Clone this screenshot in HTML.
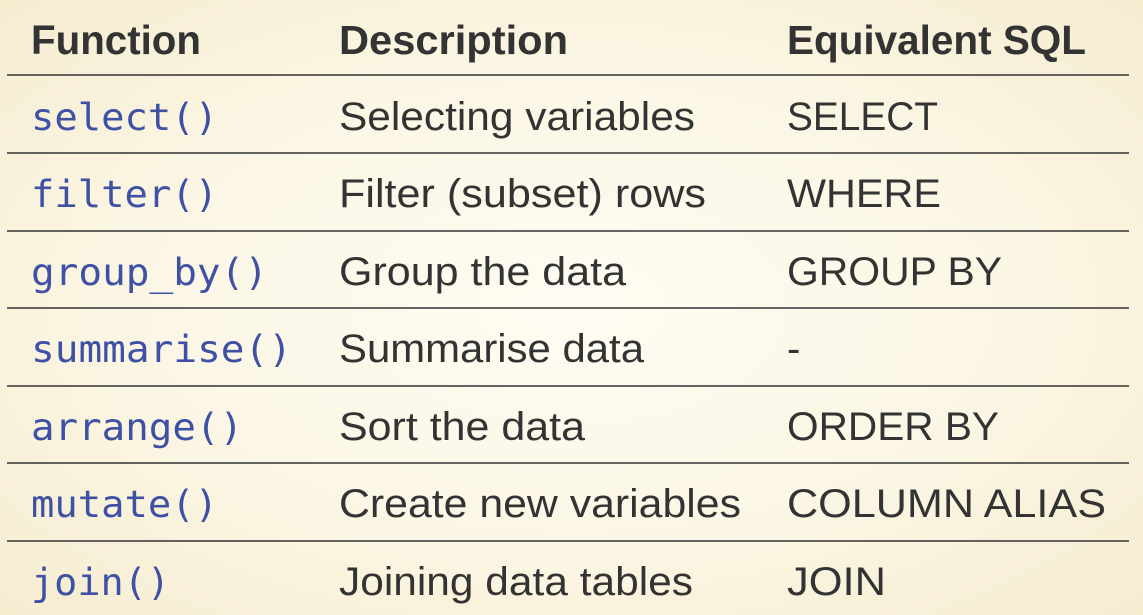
<!DOCTYPE html>
<html><head><meta charset="utf-8"><style>
html,body{margin:0;padding:0;width:1143px;height:615px;overflow:hidden}
body{background:radial-gradient(ellipse at 50% 50%,#fefcf3 0%,#fbf6e4 55%,#f5ecd0 100%)}
svg{display:block}
.h{font-family:"Liberation Sans",sans-serif;font-weight:bold;font-size:41px;fill:#333}
.t{font-family:"Liberation Sans",sans-serif;font-size:40px;fill:#333}
.c{font-family:"DejaVu Sans Mono","Liberation Mono",monospace;font-size:37px;fill:#3f51a5}
line{stroke:#333;stroke-width:1.5}
</style></head><body>
<svg width="1143" height="615" xmlns="http://www.w3.org/2000/svg">
<text class="h" x="31" y="54" textLength="170" lengthAdjust="spacingAndGlyphs">Function</text>
<text class="h" x="339" y="54" textLength="229" lengthAdjust="spacingAndGlyphs">Description</text>
<text class="h" x="787" y="54" textLength="299" lengthAdjust="spacingAndGlyphs">Equivalent SQL</text>
<line x1="7" y1="75" x2="1129" y2="75"/>
<text class="c" x="31" y="130" textLength="187" lengthAdjust="spacingAndGlyphs">select()</text>
<text class="t" x="339" y="130" textLength="356" lengthAdjust="spacingAndGlyphs">Selecting variables</text>
<text class="t" x="787" y="130" textLength="151" lengthAdjust="spacingAndGlyphs">SELECT</text>
<line x1="7" y1="153" x2="1129" y2="153"/>
<text class="c" x="31" y="207" textLength="187" lengthAdjust="spacingAndGlyphs">filter()</text>
<text class="t" x="339" y="207" textLength="367" lengthAdjust="spacingAndGlyphs">Filter (subset) rows</text>
<text class="t" x="787" y="207" textLength="154" lengthAdjust="spacingAndGlyphs">WHERE</text>
<line x1="7" y1="231" x2="1129" y2="231"/>
<text class="c" x="31" y="285" textLength="237" lengthAdjust="spacingAndGlyphs">group_by()</text>
<text class="t" x="339" y="285" textLength="287" lengthAdjust="spacingAndGlyphs">Group the data</text>
<text class="t" x="787" y="285" textLength="215" lengthAdjust="spacingAndGlyphs">GROUP BY</text>
<line x1="7" y1="308" x2="1129" y2="308"/>
<text class="c" x="31" y="362" textLength="261" lengthAdjust="spacingAndGlyphs">summarise()</text>
<text class="t" x="339" y="362" textLength="305" lengthAdjust="spacingAndGlyphs">Summarise data</text>
<text class="t" x="787" y="362">-</text>
<line x1="7" y1="386" x2="1129" y2="386"/>
<text class="c" x="31" y="440" textLength="212" lengthAdjust="spacingAndGlyphs">arrange()</text>
<text class="t" x="339" y="440" textLength="246" lengthAdjust="spacingAndGlyphs">Sort the data</text>
<text class="t" x="787" y="440" textLength="212" lengthAdjust="spacingAndGlyphs">ORDER BY</text>
<line x1="7" y1="463" x2="1129" y2="463"/>
<text class="c" x="31" y="517" textLength="187" lengthAdjust="spacingAndGlyphs">mutate()</text>
<text class="t" x="339" y="517" textLength="402" lengthAdjust="spacingAndGlyphs">Create new variables</text>
<text class="t" x="787" y="517" textLength="319" lengthAdjust="spacingAndGlyphs">COLUMN ALIAS</text>
<line x1="7" y1="541" x2="1129" y2="541"/>
<text class="c" x="31" y="595" textLength="139" lengthAdjust="spacingAndGlyphs">join()</text>
<text class="t" x="339" y="595" textLength="354" lengthAdjust="spacingAndGlyphs">Joining data tables</text>
<text class="t" x="787" y="595" textLength="99" lengthAdjust="spacingAndGlyphs">JOIN</text>
</svg>
</body></html>
